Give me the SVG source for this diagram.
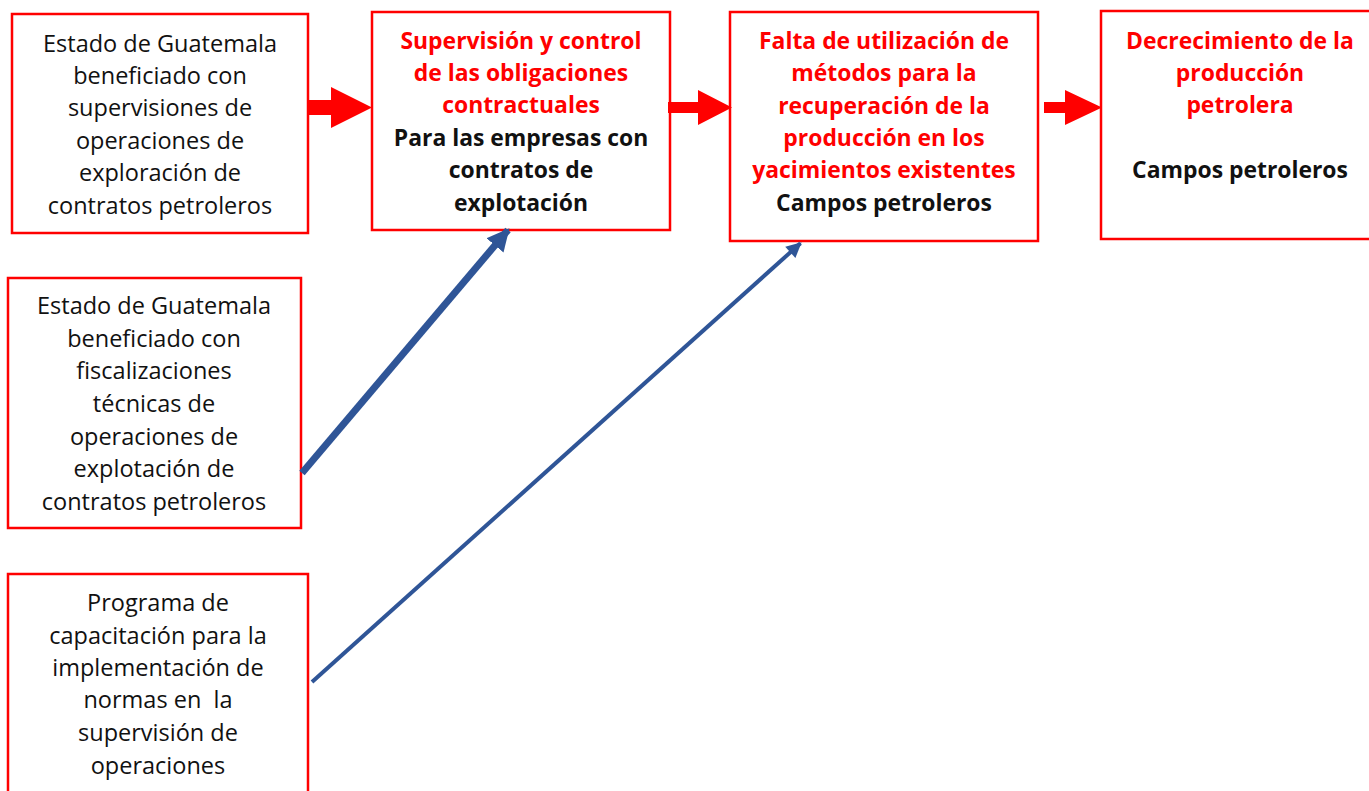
<svg xmlns="http://www.w3.org/2000/svg" width="1369" height="791" viewBox="0 0 1369 791">
<defs>
<style>
.box{fill:#fff;stroke:#ff0000;stroke-width:2.5}
.t{font-family:"Open Sans","Noto Sans",sans-serif;font-size:23.5px;text-anchor:middle;fill:#111;white-space:pre}
.r{font-weight:bold;fill:#ff0000;font-size:22.9px}
.b{font-weight:bold;fill:#111;font-size:22.9px}
.red{fill:#ff0000}
.blue{stroke:#2f5597;fill:none}
</style>
<marker id="bh" viewBox="0 0 10 10" refX="9" refY="5" markerWidth="3.2" markerHeight="3.3" orient="auto" markerUnits="strokeWidth">
<path d="M0,0 L10,5 L0,10 z" fill="#2f5597"/>
</marker>
<marker id="bh2" viewBox="0 0 10 10" refX="9" refY="5" markerWidth="4.3" markerHeight="3.8" orient="auto" markerUnits="strokeWidth">
<path d="M0,0 L10,5 L0,10 z" fill="#2f5597"/>
</marker>
</defs>
<rect width="1369" height="791" fill="#fff"/>
<g id="n1">
<rect class="box" x="12" y="14" width="296" height="219"/>
<text class="t"><tspan x="160" y="52">Estado de Guatemala</tspan><tspan x="160" y="84">beneficiado con</tspan><tspan x="160" y="116">supervisiones de</tspan><tspan x="160" y="149">operaciones de</tspan><tspan x="160" y="181">exploración de</tspan><tspan x="160" y="214">contratos petroleros</tspan></text>
</g>
<g id="n2">
<rect class="box" x="372" y="12" width="298" height="218"/>
<text class="t r"><tspan x="521" y="49">Supervisión y control</tspan><tspan x="521" y="81">de las obligaciones</tspan><tspan x="521" y="113">contractuales</tspan></text>
<text class="t b"><tspan x="521" y="146">Para las empresas con</tspan><tspan x="521" y="178">contratos de</tspan><tspan x="521" y="211">explotación</tspan></text>
</g>
<g id="n3">
<rect class="box" x="730" y="12" width="308" height="229"/>
<text class="t r"><tspan x="884" y="49">Falta de utilización de</tspan><tspan x="884" y="81">métodos para la</tspan><tspan x="884" y="114">recuperación de la</tspan><tspan x="884" y="146">producción en los</tspan><tspan x="884" y="178">yacimientos existentes</tspan></text>
<text class="t b"><tspan x="884" y="211">Campos petroleros</tspan></text>
</g>
<g id="n4">
<rect class="box" x="1101" y="11" width="270" height="228"/>
<text class="t r"><tspan x="1240" y="49">Decrecimiento de la</tspan><tspan x="1240" y="81">producción</tspan><tspan x="1240" y="113">petrolera</tspan></text>
<text class="t b"><tspan x="1240" y="178">Campos petroleros</tspan></text>
</g>
<g id="n5">
<rect class="box" x="8" y="278" width="293" height="250"/>
<text class="t"><tspan x="154" y="314">Estado de Guatemala</tspan><tspan x="154" y="347">beneficiado con</tspan><tspan x="154" y="379">fiscalizaciones</tspan><tspan x="154" y="412">técnicas de</tspan><tspan x="154" y="445">operaciones de</tspan><tspan x="154" y="477">explotación de</tspan><tspan x="154" y="510">contratos petroleros</tspan></text>
</g>
<g id="n6">
<rect class="box" x="8" y="574" width="300" height="230"/>
<text class="t"><tspan x="158" y="611">Programa de</tspan><tspan x="158" y="644">capacitación para la</tspan><tspan x="158" y="676">implementación de</tspan><tspan x="158" y="708">normas en  la</tspan><tspan x="158" y="741">supervisión de</tspan><tspan x="158" y="774">operaciones</tspan></text>
</g>
<g id="connectors">
<path class="red" d="M308,100 L331,100 L331,87 L372,107.5 L331,128 L331,115 L308,115 z"/>
<path class="red" d="M668,102 L698,102 L698,90 L732,107.5 L698,125 L698,113 L668,113 z"/>
<path class="red" d="M1044,102 L1065,102 L1065,90 L1102,107.5 L1065,125 L1065,113 L1044,113 z"/>
<line class="blue" x1="302" y1="473" x2="508" y2="230" stroke-width="7" marker-end="url(#bh)"/>
<line class="blue" x1="312" y1="682" x2="800.5" y2="243.2" stroke-width="4" marker-end="url(#bh2)"/>
</g>
</svg>
